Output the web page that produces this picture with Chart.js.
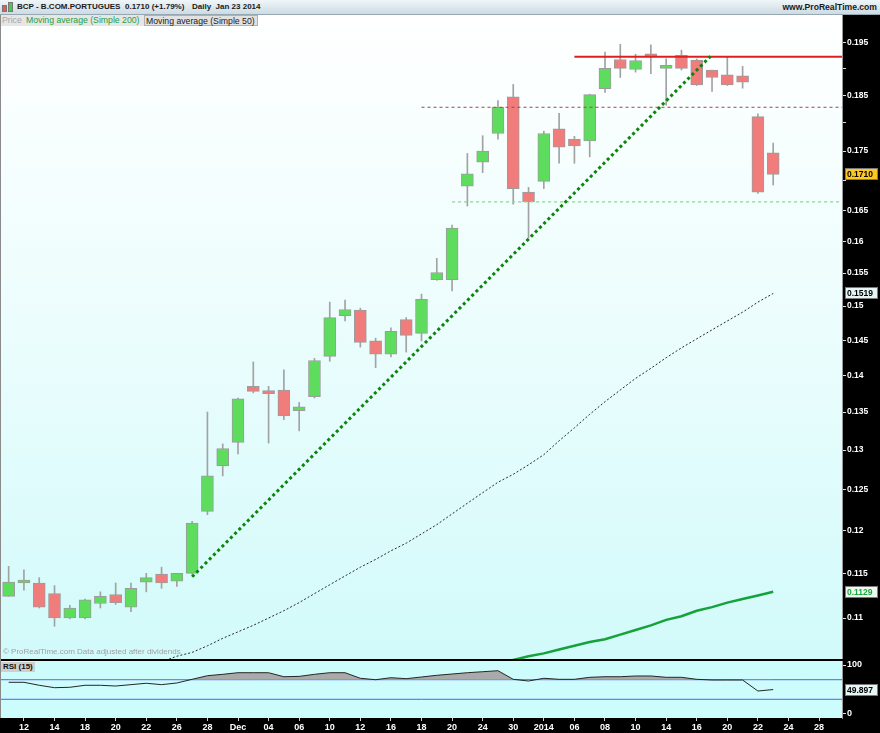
<!DOCTYPE html>
<html><head><meta charset="utf-8">
<script src="https://cdn.jsdelivr.net/npm/chart.js@4.4.0/dist/chart.umd.min.js"></script>
<style>
body{margin:0;width:880px;height:733px;overflow:hidden;background:#000;position:relative;font-family:"Liberation Sans",Arial,sans-serif}
#hdr{position:absolute;left:0;top:0;width:880px;height:15px;background:linear-gradient(#f0f6f9,#cddbe3);border-bottom:1px solid #98a8b2;box-sizing:border-box}
#hdr span{position:absolute;top:1px;font-size:8px;font-weight:bold;color:#1a1a1a;line-height:12px;white-space:nowrap}
#hdr i{position:absolute;display:block;border:1px solid #777;box-sizing:border-box}
#leg{position:absolute;left:1px;top:15px;height:11px;z-index:3}
#leg span{position:absolute;top:0;height:11px;font-size:8.7px;line-height:11px;white-space:nowrap;background:#e6e6e6;padding:0 1px;box-sizing:border-box}
#price{position:absolute;left:1px;top:15px}
#rsi{position:absolute;left:1px;top:661px}
#lb{position:absolute;left:0;top:15px;width:1px;height:703px;background:#8a8a8a;z-index:2}
#copy{position:absolute;left:3px;top:647px;font-size:8px;color:#a0a0a0;white-space:nowrap;z-index:3}
#rsil{position:absolute;left:1px;top:662px;height:10px;font-size:8px;font-weight:bold;line-height:10px;background:#cfcfcf;color:#111;padding:0 2px;z-index:3}
</style></head><body>
<div id="hdr">
  <i style="left:2px;top:5px;width:5px;height:7px;background:#e85a5a"></i>
  <i style="left:8px;top:2px;width:5px;height:10px;background:#46cc46"></i>
  <span style="left:17px">BCP - B.COM.PORTUGUES</span>
  <span style="left:125px">0.1710 (+1.79%)</span>
  <span style="left:192px">Daily&nbsp;&nbsp;Jan 23 2014</span>
  <span style="right:3px;font-size:8.6px">www.ProRealTime.com</span>
</div>
<div id="leg">
  <span style="left:0;width:24px;color:#a6a6a6">Price</span>
  <span style="left:24px;width:119px;color:#1fa045">Moving average (Simple 200)</span>
  <span style="left:143px;width:114px;color:#1a1a1a;border:1px solid #b0b0b0;background:#e2e2e2">Moving average (Simple 50)</span>
</div>
<div id="lb"></div>
<canvas id="price" width="879" height="644"></canvas>
<canvas id="rsi" width="879" height="72"></canvas>
<div id="copy">© ProRealTime.com Data adjusted after dividends</div>
<div id="rsil">RSI (15)</div>
<script>
// ---------- data ----------
const dates = ['2013-11-11','2013-11-12','2013-11-13','2013-11-14','2013-11-15','2013-11-18','2013-11-19','2013-11-20','2013-11-21','2013-11-22','2013-11-25','2013-11-26','2013-11-27','2013-11-28','2013-11-29',
'2013-12-02','2013-12-03','2013-12-04','2013-12-05','2013-12-06','2013-12-09','2013-12-10','2013-12-11','2013-12-12','2013-12-13','2013-12-16','2013-12-17','2013-12-18','2013-12-19','2013-12-20','2013-12-23','2013-12-24','2013-12-27','2013-12-30','2013-12-31',
'2014-01-02','2014-01-03','2014-01-06','2014-01-07','2014-01-08','2014-01-09','2014-01-10','2014-01-13','2014-01-14','2014-01-15','2014-01-16','2014-01-17','2014-01-20','2014-01-21','2014-01-22','2014-01-23'];
const openP  = [0.1124,0.1139,0.1139,0.1127,0.1100,0.1100,0.1116,0.1126,0.1112,0.1140,0.1149,0.1141,0.1150,0.1223,0.1280,0.1310,0.1385,0.1376,0.1380,0.1352,0.1371,0.1427,0.1486,0.1494,0.1449,0.1430,0.1480,0.1460,0.1540,0.1540,0.1690,0.1731,0.1781,0.1847,0.1680,0.1698,0.1789,0.1771,0.1768,0.1862,0.1917,0.1898,0.1925,0.1900,0.1925,0.1916,0.1897,0.1888,0.1886,0.1811,0.1747];
const highP  = [0.1158,0.1154,0.1145,0.1136,0.1114,0.1121,0.1129,0.1139,0.1139,0.1150,0.1157,0.1150,0.1211,0.1350,0.1308,0.1369,0.1419,0.1385,0.1408,0.1363,0.1424,0.1506,0.1509,0.1497,0.1453,0.1468,0.1483,0.1518,0.1573,0.1626,0.1746,0.1777,0.1840,0.1870,0.1688,0.1785,0.1817,0.1776,0.1852,0.1931,0.1946,0.1927,0.1945,0.1918,0.1935,0.1918,0.1897,0.1922,0.1904,0.1816,0.1764];
const lowP   = [0.1124,0.1131,0.1111,0.1091,0.1099,0.1099,0.1111,0.1115,0.1107,0.1129,0.1133,0.1135,0.1149,0.1219,0.1267,0.1295,0.1376,0.1309,0.1340,0.1325,0.1369,0.1420,0.1478,0.1440,0.1411,0.1426,0.1433,0.1449,0.1539,0.1523,0.1657,0.1713,0.1771,0.1660,0.1605,0.1686,0.1729,0.1729,0.1740,0.1855,0.1883,0.1893,0.1890,0.1832,0.1897,0.1868,0.1857,0.1868,0.1863,0.1678,0.1692];
const closeP = [0.1140,0.1141,0.1112,0.1100,0.1111,0.1120,0.1124,0.1117,0.1133,0.1145,0.1139,0.1150,0.1209,0.1267,0.1302,0.1368,0.1378,0.1375,0.1345,0.1357,0.1421,0.1483,0.1495,0.1447,0.1430,0.1463,0.1457,0.1510,0.1551,0.1621,0.1711,0.1750,0.1828,0.1686,0.1664,0.1781,0.1757,0.1759,0.1851,0.1900,0.1900,0.1915,0.1922,0.1906,0.1900,0.1869,0.1883,0.1869,0.1874,0.1680,0.1710];
const sma200 = [null,null,null,null,null,null,null,null,null,null,null,null,null,null,null,null,null,null,null,null,null,null,null,null,null,null,null,null,null,null,null,null,
  0.1051,0.1055,0.1059,0.1062,0.1066,0.1070,0.1074,0.1077,0.1082,0.1087,0.1092,0.1098,0.1102,0.1108,0.1112,0.1117,0.1121,0.1125,0.1129];
const sma50 = [null,null,null,null,null,null,null,null,null,null,
  0.1053,0.1059,0.1063,0.1070,0.1078,0.1085,0.1092,0.1100,0.1108,0.1117,0.1127,0.1137,0.1147,0.1157,0.1166,0.1176,0.1185,0.1196,0.1207,0.1220,
  0.1233,0.1246,0.1259,0.1269,0.1281,0.1294,0.1312,0.1329,0.1347,0.1364,0.1380,0.1396,0.1410,0.1425,0.1439,0.1452,0.1465,0.1478,0.1491,0.1506,0.1519];
const rsi15 = [64.7,64.7,58.6,53.7,54.5,58.6,58.6,57.1,59.9,62.7,59.9,63.3,70.8,78.2,81.0,84.3,84.3,84.3,76.1,76.8,81.0,84.3,84.3,72.9,70.0,74.1,72.1,75.5,79.0,81.6,84.3,86.3,88.4,
  70.8,67.3,72.9,70.8,70.8,74.9,76.1,76.1,77.6,77.6,74.9,74.9,70.8,69.4,69.4,69.4,46.9,49.897];
const tickIdx = [1,3,5,7,9,11,13,15,17,19,21,23,25,27,29,31,33,35,37,39,41,43,45,47,49,51,53];
const tickLbl = ['12','14','18','20','22','26','28','Dec','04','06','10','12','16','18','20','24','30','2014','06','08','10','14','16','20','22','24','28'];
const priceTicks = [0.11,0.115,0.12,0.125,0.13,0.135,0.14,0.145,0.15,0.155,0.16,0.165,0.17,0.175,0.18,0.185,0.19,0.195];
const priceTicksLabelled = [0.11,0.115,0.12,0.125,0.13,0.135,0.14,0.145,0.15,0.155,0.16,0.165,0.175,0.185,0.195];
const trendUp = [[12,0.1146],[45.9,0.1923]];
const resistHigh = [[37,0.1922],[54.5,0.1922]];
const resistMid = [[27,0.1828],[54.5,0.1828]];
const supportLow = [[29,0.1664],[54.5,0.1664]];
const rsiLevels = [70,30];

// ---------- helpers ----------
const FONT = 'Liberation Sans';
const pts = arr => arr.map(p => ({x:p[0], y:p[1]}));
const series = arr => arr.map((v,i) => ({x:i, y:v}));
const GREEN = '#5ddc5d', RED = '#f07c7c';

const bgPlugin = { id:'bg', beforeDraw(chart, a, o){
  const {ctx, chartArea:c} = chart; ctx.save();
  const g = ctx.createLinearGradient(0,c.top,0,c.bottom);
  o.stops.forEach(s => g.addColorStop(s[0], s[1]));
  ctx.fillStyle = g; ctx.fillRect(c.left,c.top,c.right-c.left,c.bottom-c.top); ctx.restore();
}};
const tagPlugin = { id:'tags', afterDraw(chart, a, o){
  const ctx = chart.ctx, ys = chart.scales.y; ctx.save();
  (o.items||[]).forEach(t => {
    const y = Math.round(ys.getPixelForValue(t.value)), x = ys.left + 3;
    ctx.fillStyle = t.bg; ctx.fillRect(x, y-6, 33, 12);
    ctx.strokeStyle = '#7a7a7a'; ctx.lineWidth = 1; ctx.strokeRect(x+0.5, y-5.5, 32, 11);
    ctx.fillStyle = t.fg; ctx.font = 'bold 8.5px "'+FONT+'"'; ctx.textBaseline = 'middle'; ctx.textAlign = 'left';
    ctx.fillText(t.text, x+2, y+0.5);
  });
  ctx.restore();
}};
const fitY = s => { s.width = 38; s.paddingTop = 0; s.paddingBottom = 0; };
const fitX = s => { s.height = 15; s.paddingLeft = 0; s.paddingRight = 0; };

const xBase = {type:'linear', min:-0.5, max:54.5, offset:false};
const common = {responsive:false, animation:false, events:[], layout:{padding:0},
  plugins:{legend:{display:false}, tooltip:{enabled:false}}};

new Chart(document.getElementById('price'), {
  type:'line',
  data:{datasets:[
    {type:'line', data:pts(trendUp), borderColor:'#0b850b', borderWidth:3, borderDash:[3,3], pointRadius:0, order:0, clip:0},
    {type:'line', data:pts(resistHigh), borderColor:'#e01e1e', borderWidth:2, pointRadius:0, order:0, clip:0},
    {type:'line', data:pts(resistMid), borderColor:'#b04040', borderWidth:1, borderDash:[3,3], pointRadius:0, order:0, clip:0},
    {type:'line', data:pts(supportLow), borderColor:'#8ed68e', borderWidth:1.2, borderDash:[3,3], pointRadius:0, order:0, clip:0},
    {type:'line', data:series(sma200), borderColor:'#14a23a', borderWidth:2.5, pointRadius:0, order:1, clip:0},
    {type:'line', data:series(sma50), borderColor:'#2a2a2a', borderWidth:1, borderDash:[2,2], pointRadius:0, order:1, clip:0},
    {type:'bar', data:dates.map((d,i)=>({x:i, y:[lowP[i], highP[i]]})), backgroundColor:'#a2a2a2', barThickness:1, grouped:false, order:5, clip:0},
    {type:'bar', data:dates.map((d,i)=>({x:i, y:[openP[i], closeP[i]]})), grouped:false, order:4, clip:0,
      backgroundColor: c => closeP[c.dataIndex] >= openP[c.dataIndex] ? GREEN : RED,
      borderColor:'#9c9c9c', borderWidth:1, borderSkipped:false, barThickness:12, minBarLength:3}
  ]},
  options:{...common,
    scales:{
      x:{...xBase, display:false},
      y:{type:'logarithmic', position:'right', min:0.105606, max:0.200367,
        afterBuildTicks: s => { s.ticks = priceTicks.map(v => ({value:v})); },
        afterFit: fitY,
        grid:{drawOnChartArea:false, drawTicks:true, tickLength:4, tickColor:'#e0e0e0'},
        border:{display:true, color:'#9a9a9a'},
        ticks:{autoSkip:false, padding:1, color:'#ffffff', font:{family:FONT, size:8.5, weight:'bold'},
          callback: v => priceTicksLabelled.includes(v) ? String(+v.toFixed(3)) : ''}
      }
    },
    plugins:{...common.plugins,
      bg:{stops:[[0,'#ffffff'],[0.5,'#ebfdfd'],[1,'#d2fafa']]},
      tags:{items:[
        {value:closeP[closeP.length-1], text:closeP[closeP.length-1].toFixed(4), bg:'#ffc81e', fg:'#000'},
        {value:sma50[sma50.length-1], text:sma50[sma50.length-1].toFixed(4), bg:'#e6f6f6', fg:'#000'},
        {value:sma200[sma200.length-1], text:sma200[sma200.length-1].toFixed(4), bg:'#eef8f0', fg:'#18a83c'}
      ]}
    }
  },
  plugins:[bgPlugin, tagPlugin]
});

new Chart(document.getElementById('rsi'), {
  type:'line',
  data:{datasets:[
    {data:series(rsi15), borderColor:'#262626', borderWidth:1, pointRadius:0, order:0, clip:0,
      fill:{target:{value:rsiLevels[0]}, above:'#aaaaaa', below:'rgba(0,0,0,0)'}},
    ...rsiLevels.map(l => ({data:[{x:-0.5,y:l},{x:54.5,y:l}], borderColor:'#5a5af0', borderWidth:1, pointRadius:0, order:1, fill:false}))
  ]},
  options:{...common,
    scales:{
      x:{...xBase, position:'bottom',
        afterBuildTicks: s => { s.ticks = tickIdx.map(v => ({value:v})); },
        afterFit: fitX,
        grid:{drawOnChartArea:false, drawTicks:true, tickLength:3, tickColor:'#d0d0d0'},
        border:{display:false},
        ticks:{autoSkip:false, maxRotation:0, padding:1, color:'#ffffff', font:{family:FONT, size:9, weight:'bold'},
          callback: v => tickLbl[tickIdx.indexOf(v)]}
      },
      y:{type:'linear', position:'right', min:-8.2, max:108.2,
        afterBuildTicks: s => { s.ticks = [{value:0},{value:100}]; },
        afterFit: fitY,
        grid:{drawOnChartArea:false, drawTicks:true, tickLength:4, tickColor:'#e0e0e0'},
        border:{display:true, color:'#9a9a9a'},
        ticks:{autoSkip:false, padding:1, color:'#ffffff', font:{family:FONT, size:9, weight:'bold'}}
      }
    },
    plugins:{...common.plugins,
      bg:{stops:[[0,'#cdfcfc'],[1,'#cdfcfc']]},
      tags:{items:[{value:rsi15[rsi15.length-1], text:rsi15[rsi15.length-1].toFixed(3), bg:'#e6f6f6', fg:'#000'}]}
    }
  },
  plugins:[bgPlugin, tagPlugin]
});
</script>
</body></html>
